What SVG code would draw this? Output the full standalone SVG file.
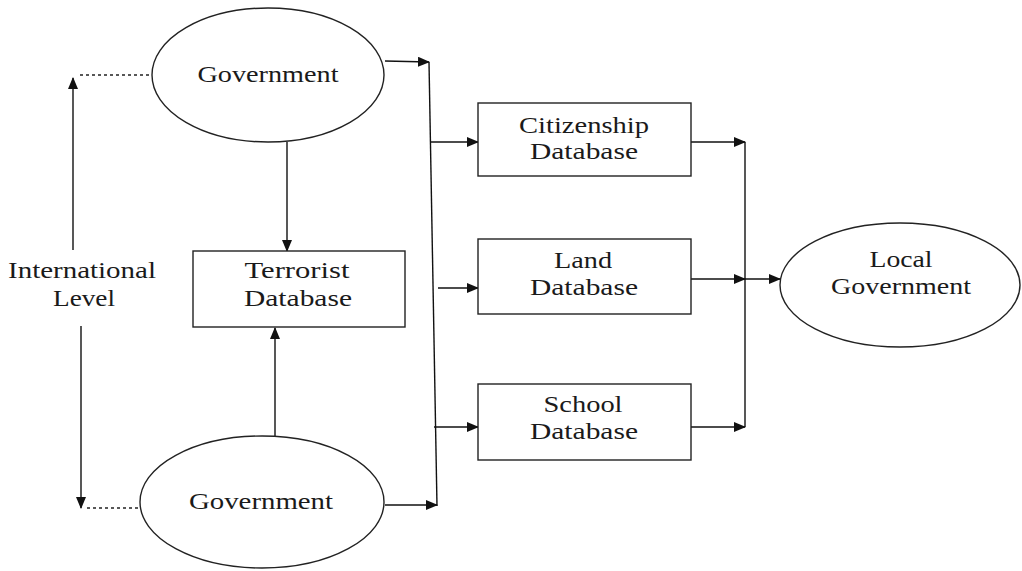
<svg xmlns="http://www.w3.org/2000/svg" width="1022" height="571" viewBox="0 0 1022 571">
<style>
.shape{fill:#fff;stroke:#222;stroke-width:1.4}
.ln{fill:none;stroke:#111;stroke-width:1.4}
.dot{fill:none;stroke:#222;stroke-width:1.3;stroke-dasharray:3 3}
text{font-family:"Liberation Serif","Times New Roman",serif;font-size:24px;fill:#1a1a1a;text-anchor:middle}
</style>
<defs>
<marker id="ah" markerWidth="12" markerHeight="10" refX="11" refY="5" orient="auto" markerUnits="userSpaceOnUse">
<path d="M0,0 L12,5 L0,10 Z" fill="#111"/>
</marker>
</defs>
<rect width="1022" height="571" fill="#fff"/>
<g id="connectors">
<line class="ln" x1="73" y1="250" x2="73" y2="78" marker-end="url(#ah)"/>
<line class="dot" x1="80" y1="75" x2="152" y2="75"/>
<line class="ln" x1="81" y1="326" x2="81" y2="508" marker-end="url(#ah)"/>
<line class="dot" x1="87" y1="508" x2="140" y2="508"/>
<line class="ln" x1="287" y1="142" x2="287" y2="251" marker-end="url(#ah)"/>
<line class="ln" x1="275" y1="436" x2="275" y2="328" marker-end="url(#ah)"/>
<line class="ln" x1="385" y1="61" x2="429" y2="62" marker-end="url(#ah)"/>
<line class="ln" x1="429" y1="62" x2="437" y2="506"/>
<line class="ln" x1="385" y1="505" x2="437" y2="505" marker-end="url(#ah)"/>
<line class="ln" x1="430" y1="142" x2="478" y2="142" marker-end="url(#ah)"/>
<line class="ln" x1="438" y1="288" x2="478" y2="288" marker-end="url(#ah)"/>
<line class="ln" x1="434" y1="427" x2="478" y2="427" marker-end="url(#ah)"/>
<line class="ln" x1="691" y1="142" x2="745" y2="142" marker-end="url(#ah)"/>
<line class="ln" x1="691" y1="279" x2="745" y2="279" marker-end="url(#ah)"/>
<line class="ln" x1="691" y1="427" x2="745" y2="427" marker-end="url(#ah)"/>
<line class="ln" x1="745" y1="142" x2="745" y2="427"/>
<line class="ln" x1="745" y1="279" x2="780" y2="279" marker-end="url(#ah)"/>
</g>
<g id="gov-top">
<ellipse class="shape" cx="268" cy="75" rx="116" ry="67"/>
<text x="268" y="82" textLength="141" lengthAdjust="spacingAndGlyphs">Government</text>
</g>
<g id="intl-level">
<text x="82" y="278" textLength="148" lengthAdjust="spacingAndGlyphs">International</text>
<text x="84" y="306" textLength="62" lengthAdjust="spacingAndGlyphs">Level</text>
</g>
<g id="terrorist-db">
<rect class="shape" x="193" y="251" width="212" height="76"/>
<text x="297" y="278" textLength="105" lengthAdjust="spacingAndGlyphs">Terrorist</text>
<text x="298" y="306" textLength="108" lengthAdjust="spacingAndGlyphs">Database</text>
</g>
<g id="gov-bottom">
<ellipse class="shape" cx="262" cy="502" rx="122" ry="66"/>
<text x="261" y="509" textLength="144" lengthAdjust="spacingAndGlyphs">Government</text>
</g>
<g id="citizenship-db">
<rect class="shape" x="478" y="103" width="213" height="73"/>
<text x="584" y="133" textLength="130" lengthAdjust="spacingAndGlyphs">Citizenship</text>
<text x="584" y="159" textLength="108" lengthAdjust="spacingAndGlyphs">Database</text>
</g>
<g id="land-db">
<rect class="shape" x="478" y="239" width="213" height="75"/>
<text x="583" y="268" textLength="58" lengthAdjust="spacingAndGlyphs">Land</text>
<text x="584" y="295" textLength="108" lengthAdjust="spacingAndGlyphs">Database</text>
</g>
<g id="school-db">
<rect class="shape" x="478" y="384" width="213" height="76"/>
<text x="583" y="412" textLength="79" lengthAdjust="spacingAndGlyphs">School</text>
<text x="584" y="439" textLength="108" lengthAdjust="spacingAndGlyphs">Database</text>
</g>
<g id="local-gov">
<ellipse class="shape" cx="900" cy="285" rx="120" ry="62"/>
<text x="901" y="267" textLength="63" lengthAdjust="spacingAndGlyphs">Local</text>
<text x="901" y="294" textLength="140" lengthAdjust="spacingAndGlyphs">Government</text>
</g>
</svg>
